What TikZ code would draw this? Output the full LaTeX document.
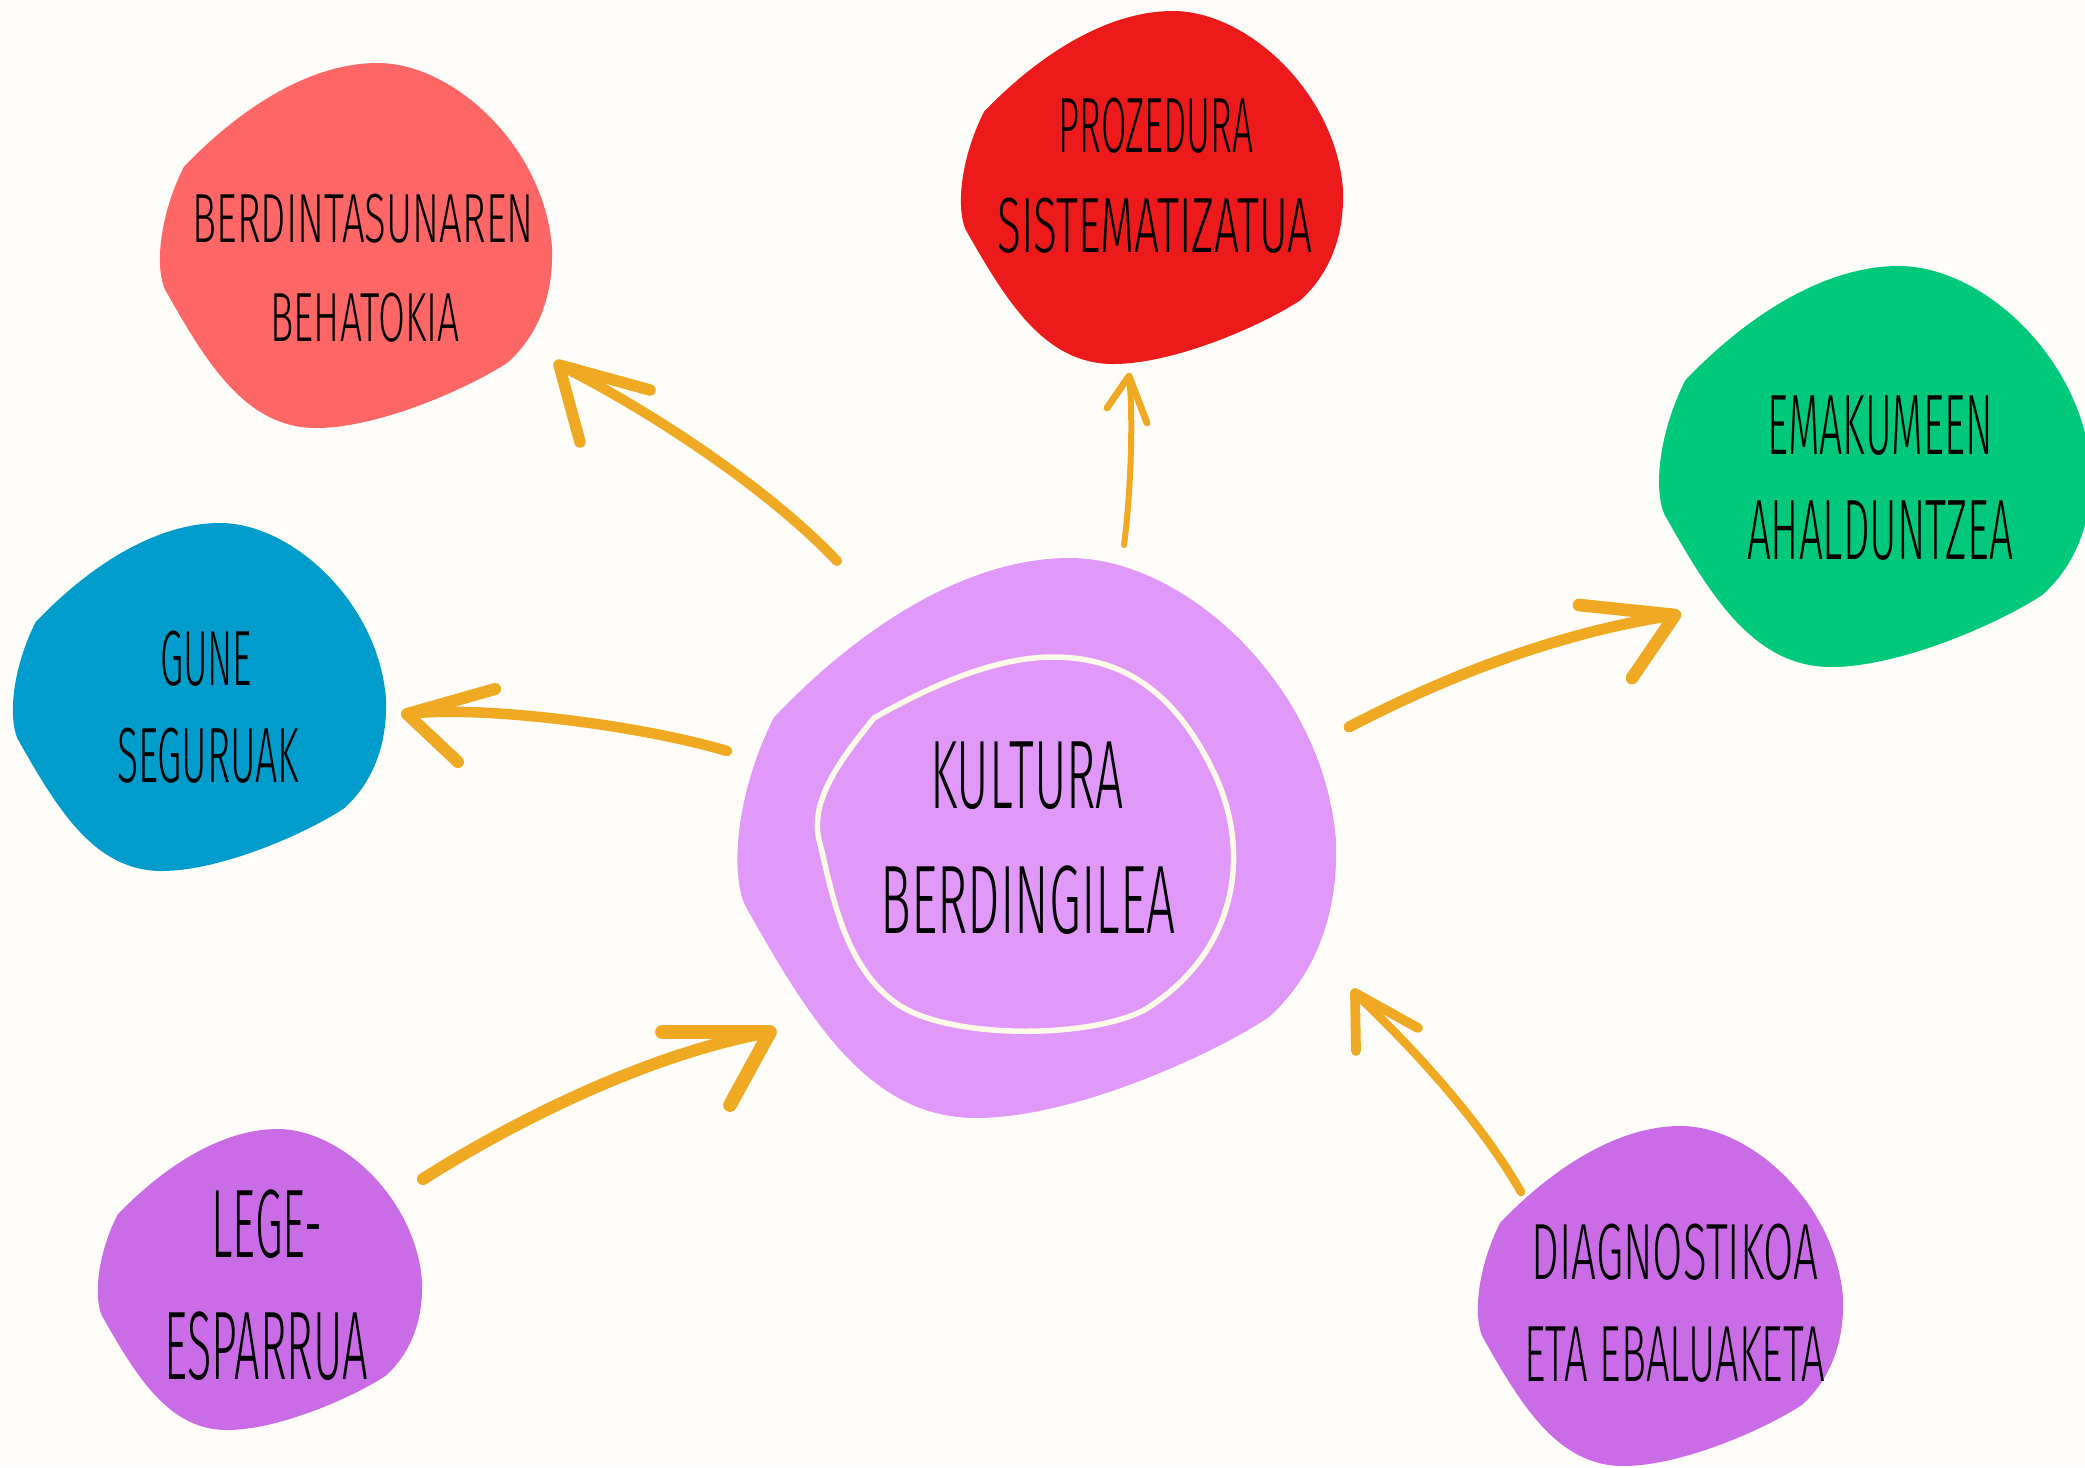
\documentclass[tikz,border=0pt]{standalone}
\usepackage{graphicx}
\usepackage{fontspec}
\newfontfamily\handfont{Fira Sans}[UprightFont={* Light}, FakeStretch=0.56]

\definecolor{paper}{RGB}{254,253,250}
\definecolor{blobcoral}{RGB}{255,102,102}
\definecolor{blobred}{RGB}{236,26,26}
\definecolor{blobgreen}{RGB}{0,201,124}
\definecolor{blobblue}{RGB}{0,157,204}
\definecolor{bloblilac}{RGB}{224,152,249}
\definecolor{blobviolet}{RGB}{201,108,230}
\definecolor{ochre}{RGB}{239,169,34}
\definecolor{cream}{RGB}{255,250,232}

\tikzset{
  brush/.style={draw=ochre, line cap=round, line join=round},
  lbl/.style={anchor=base, inner sep=0pt, text=black},
}

% one blob, scaled into its box: colour, left, top, width, height
\newcommand{\blob}[5]{%
  \begin{scope}[shift={(#2,#3)}, xscale=#4, yscale=#5]
    \fill[#1] (0.063,0.285) .. controls (0.2,0.13) and (0.38,0) .. (0.556,0)
      .. controls (0.75,0) and (0.98,0.23) .. (1,0.505)
      .. controls (1.005,0.66) and (0.95,0.76) .. (0.888,0.82)
      .. controls (0.79,0.89) and (0.56,1) .. (0.40,1)
      .. controls (0.22,1) and (0.12,0.82) .. (0.015,0.62)
      .. controls (-0.01,0.56) and (0,0.42) .. (0.063,0.285) -- cycle;
  \end{scope}}

\newcommand{\lblfont}[1]{\handfont\fontsize{#1}{#1}\selectfont}
% keep the height, set the width
\newcommand{\fitw}[2]{\resizebox{#1}{\height}{#2}}

\begin{document}
\begin{tikzpicture}[x=0.1mm, y=-0.1mm]
    % Paper
    \fill[paper] (0,0) rectangle (2085,1467);
    \useasboundingbox (0,0) rectangle (2085,1467);

    % Draw blobs
    \blob{blobcoral}{159}{63}{393}{365}
    \blob{blobred}{960}{11}{383}{353}
    \blob{blobgreen}{1658}{266}{433}{401}
    \blob{blobblue}{12}{523}{374}{348}
    \blob{bloblilac}{736}{558}{600}{560}
    \blob{blobviolet}{97}{1129}{325}{301}
    \blob{blobviolet}{1477}{1126}{366}{340}

    % Inner ring of the centre blob
    \draw[cream, line width=0.55mm] (874,718) .. controls (930,686) and (995,657) .. (1053,657)
      .. controls (1130,657) and (1180,700) .. (1215,775)
      .. controls (1250,850) and (1240,950) .. (1146,1009)
      .. controls (1090,1040) and (940,1040) .. (892,1000)
      .. controls (840,960) and (830,880) .. (819,840)
      .. controls (810,800) and (840,760) .. (874,718) -- cycle;

    % Add labels
    \node[lbl, font=\lblfont{19.8pt}] (coral-1) at (363,242) {\fitw{34.1mm}{BERDINTASUNAREN}};
    \node[lbl, font=\lblfont{19.8pt}] (coral-2) at (365,341) {\fitw{18.9mm}{BEHATOKIA}};
    \node[lbl, font=\lblfont{22.3pt}] (red-1) at (1156,152) {\fitw{19.5mm}{PROZEDURA}};
    \node[lbl, font=\lblfont{22.3pt}] (red-2) at (1155,252) {\fitw{31.5mm}{SISTEMATIZATUA}};
    \node[lbl, font=\lblfont{24.4pt}] (green-1) at (1880,454) {\fitw{22.6mm}{EMAKUMEEN}};
    \node[lbl, font=\lblfont{24.4pt}] (green-2) at (1880,559) {\fitw{26.6mm}{AHALDUNTZEA}};
    \node[lbl, font=\lblfont{22.3pt}] (blue-1) at (206,685) {\fitw{9.2mm}{GUNE}};
    \node[lbl, font=\lblfont{22.3pt}] (blue-2) at (208,782) {\fitw{18.2mm}{SEGURUAK}};
    \node[lbl, font=\lblfont{27.7pt}] (centre-1) at (1027,808) {\fitw{19.4mm}{KULTURA}};
    \node[lbl, font=\lblfont{27.7pt}] (centre-2) at (1028,933) {\fitw{29.5mm}{BERDINGILEA}};
    \node[lbl, font=\lblfont{27.7pt}] (lege-1) at (267,1257) {\fitw{11.1mm}{LEGE-}};
    \node[lbl, font=\lblfont{27.7pt}] (lege-2) at (266,1379) {\fitw{20.3mm}{ESPARRUA}};
    \node[lbl, font=\lblfont{22.7pt}] (diag-1) at (1675,1279) {\fitw{28.7mm}{DIAGNOSTIKOA}};
    \node[lbl, font=\lblfont{22.7pt}] (diag-2) at (1675,1381) {\fitw{30.1mm}{ETA EBALUAKETA}};

    % Arrow ends
    \coordinate (A-tail) at (837,561); \coordinate (A-c1) at (770,490);
    \coordinate (A-c2) at (650,410);   \coordinate (A-tip) at (559,365);
    \coordinate (A-b1) at (650,390);   \coordinate (A-b2) at (580,442);
    \coordinate (B-tail) at (1124,545); \coordinate (B-c1) at (1130,500);
    \coordinate (B-c2) at (1134,420);   \coordinate (B-tip) at (1129,376);
    \coordinate (B-b1) at (1107,408);   \coordinate (B-b2) at (1147,423);
    \coordinate (C-tail) at (1349,727); \coordinate (C-c1) at (1420,690);
    \coordinate (C-c2) at (1540,635);   \coordinate (C-tip) at (1675,615);
    \coordinate (C-b1) at (1579,605);   \coordinate (C-b2) at (1632,678);
    \coordinate (D-tail) at (727,751);  \coordinate (D-c1) at (640,725);
    \coordinate (D-c2) at (480,705);    \coordinate (D-tip) at (407,714);
    \coordinate (D-b1) at (495,689);    \coordinate (D-b2) at (458,762);
    \coordinate (E-tail) at (423,1179); \coordinate (E-c1) at (500,1130);
    \coordinate (E-c2) at (640,1055);   \coordinate (E-tip) at (770,1032);
    \coordinate (E-b1) at (662,1032);   \coordinate (E-b2) at (730,1105);
    \coordinate (F-tail) at (1521,1192); \coordinate (F-c1) at (1480,1120);
    \coordinate (F-c2) at (1410,1045);   \coordinate (F-tip) at (1355,993);
    \coordinate (F-b1) at (1418,1028);   \coordinate (F-b2) at (1356,1051);

    % Draw the arrows
    \foreach \a/\w in {A/1.0mm, B/0.6mm, C/1.1mm, D/1.05mm, E/1.2mm, F/0.85mm} {
        \draw[brush, line width=\w] (\a-tail) .. controls (\a-c1) and (\a-c2) .. (\a-tip);
        \draw[brush, line width=1.15*\w] (\a-b1) -- (\a-tip) -- (\a-b2);
    }
\end{tikzpicture}
\end{document}
